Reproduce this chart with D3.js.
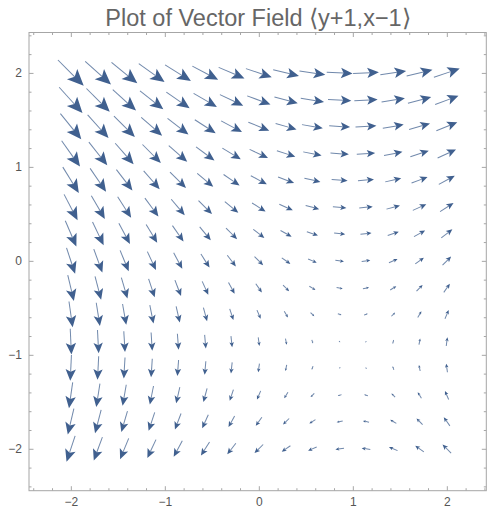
<!DOCTYPE html>
<meta charset="utf-8">
<style>
body { margin: 0; background: #fff; }
text { font-family: "Liberation Sans", Arial, sans-serif; }
.title { fill: #666; font-size: 23.5px; }
</style>

<svg width="487" height="508"></svg>

<script src="https://d3js.org/d3.v7.min.js"></script>
<script>

// grid positions (same for both axes)
var gridX = [-2, -1.71, -1.43, -1.14, -0.86, -0.57, -0.29, 0, 0.29, 0.57, 0.86, 1.14, 1.43, 1.71, 2];
var gridY = [-2, -1.71, -1.43, -1.14, -0.86, -0.57, -0.29, 0, 0.29, 0.57, 0.86, 1.14, 1.43, 1.71, 2];

// horizontal component for each row, vertical component for each column
var uByRow = [-1, -0.71, -0.43, -0.14, 0.14, 0.43, 0.71, 1, 1.29, 1.57, 1.86, 2.14, 2.43, 2.71, 3];
var vByCol = [-3, -2.71, -2.43, -2.14, -1.86, -1.57, -1.29, -1, -0.71, -0.43, -0.14, 0.14, 0.43, 0.71, 1];

var majorTicks = [-2, -1, 0, 1, 2];
var minorTicks = [-2.4, -2.2, -1.8, -1.6, -1.4, -1.2, -0.8, -0.6, -0.4, -0.2,
                  0.2, 0.4, 0.6, 0.8, 1.2, 1.4, 1.6, 1.8, 2.2, 2.4];

var title = "Plot of Vector Field \u27E8y+1,x\u22121\u27E9";

var svg = d3.select("svg");

var x = d3.scaleLinear().domain([-2.445, 2.42]).range([29, 486.3]);
var y = d3.scaleLinear().domain([-2.446, 2.43]).range([490.7, 32.5]);

var pxPerUnit = 8.6;   // arrow length per unit of magnitude
var arrowColor = "#40608f";

// field table built from the arrays above
var field = [];
gridY.forEach(function(gy, i) {
  gridX.forEach(function(gx, j) {
    field.push({ x: gx, y: gy, u: uByRow[i], v: vByCol[j] });
  });
});

// frame
svg.append("rect")
    .attr("x", x.range()[0])
    .attr("y", y.range()[1])
    .attr("width", x.range()[1] - x.range()[0])
    .attr("height", y.range()[0] - y.range()[1])
    .attr("fill", "none")
    .attr("stroke", "#a6a6a6")
    .attr("stroke-width", 1);

// ticks pointing inward, on all four sides; labels only bottom and left
function frameAxis(maker, scale, transform, showLabels, pad) {
  var g = svg.append("g").attr("transform", transform);
  g.call(maker(scale).tickValues(minorTicks).tickSize(-2.5).tickFormat(""));
  g.select(".domain").remove();

  var g2 = svg.append("g").attr("transform", transform);
  g2.call(maker(scale).tickValues(majorTicks).tickSize(-4.5).tickPadding(pad)
      .tickFormat(function(d) { return showLabels ? String(d).replace("-", "\u2212") : ""; }));
  g2.select(".domain").remove();
}

frameAxis(d3.axisBottom, x, "translate(0," + y.range()[0] + ")", true, 6.5);
frameAxis(d3.axisTop, x, "translate(0," + y.range()[1] + ")", false, 0);
frameAxis(d3.axisLeft, y, "translate(" + x.range()[0] + ",0)", true, 7);
frameAxis(d3.axisRight, y, "translate(" + x.range()[1] + ",0)", false, 0);

svg.selectAll(".tick line").attr("stroke", "#a6a6a6");
svg.selectAll(".tick text")
    .attr("fill", "#555")
    .style("font-family", "'Liberation Sans', Arial, sans-serif")
    .style("font-size", "12px");

// arrows, centred on the grid points
var arrows = svg.append("g").attr("class", "arrows");

field.forEach(function(d) {
  var mag = Math.sqrt(d.u * d.u + d.v * d.v);
  var L = mag * pxPerUnit;
  if (L < 0.5) return;
  var cx = x(d.x), cy = y(d.y);
  var ang = Math.atan2(-d.v, d.u) * 180 / Math.PI;
  var h = 0.45 * L, w = 0.2 * L, notch = 0.1 * L;

  var a = arrows.append("g")
      .attr("transform", "translate(" + cx + "," + cy + ") rotate(" + ang + ")");

  a.append("line")
      .attr("x1", -L / 2)
      .attr("y1", 0)
      .attr("x2", L / 2 - h + notch)
      .attr("y2", 0)
      .attr("stroke", arrowColor)
      .attr("stroke-opacity", 0.75)
      .attr("stroke-width", 1);

  a.append("path")
      .attr("d", "M" + (L / 2) + ",0"
               + "L" + (L / 2 - h) + "," + (-w)
               + "L" + (L / 2 - h + notch) + ",0"
               + "L" + (L / 2 - h) + "," + w + "Z")
      .attr("fill", arrowColor);
});

// title
svg.append("text")
    .attr("class", "title")
    .attr("x", 258)
    .attr("y", 26)
    .attr("text-anchor", "middle")
    .text(title);

</script>
